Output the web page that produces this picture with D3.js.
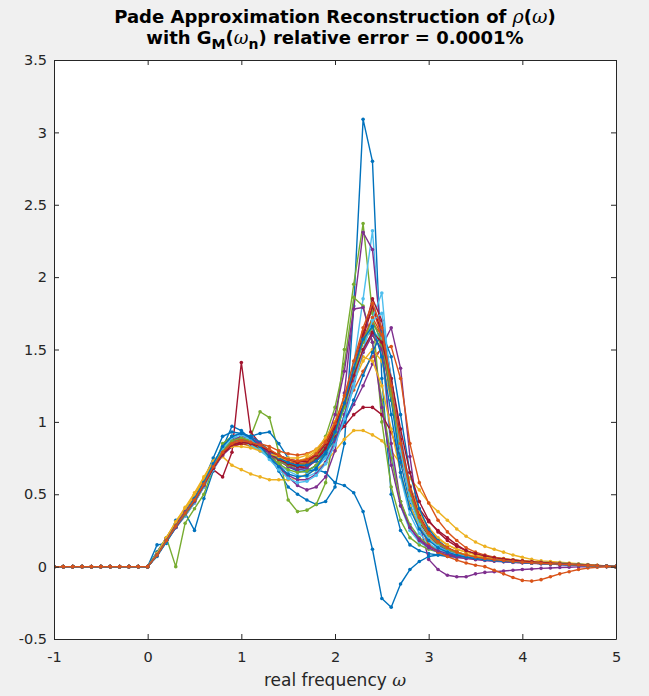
<!DOCTYPE html>
<html>
<head>
<meta charset="utf-8">
<script src="https://cdn.jsdelivr.net/npm/d3@7"></script>
<style>
  html, body { margin: 0; padding: 0; background: #f0f0f0; }
  svg { display: block; font-family: "DejaVu Sans", sans-serif; }
</style>
</head>
<body>
<div id="chart"></div>
<script>
// x grid of the reconstruction: -1 .. 5 step 0.1
const omega = d3.range(61).map(i => Math.round((-1 + i * 0.1) * 10) / 10);

const xTicks = [-1, 0, 1, 2, 3, 4, 5];
const yTicks = [-0.5, 0, 0.5, 1, 1.5, 2, 2.5, 3, 3.5];

// MATLAB default colour order
const colors = ["#0072BD", "#D95319", "#EDB120", "#7E2F8E", "#77AC30", "#4DBEEE", "#A2142F"];

// each reconstruction, 61 values from w=-1 to w=5
const s01 = [0,0,0,0,0,0,0,0,0,0, 0,.15,.16,.32,.37,.25,.47,.66,.82,.97, .94,.88,.84,.76,.66,.55,.50,.46,.43,.45, .55,.85,1.8,3.09,2.8,1.3,.5,.25,.15,.11, .09,.08,.07,.065,.06,.055,.05,.045,.04,.036, .032,.028,.025,.022,.019,.016,.012,.009,.006,.003, 0];
const s02 = [0,0,0,0,0,0,0,0,0,0, 0,.08,.19,.29,.37,.46,.57,.69,.79,.86, .88,.87,.84,.80,.76,.72,.70,.71,.75,.84, .97,1.16,1.4,1.62,1.78,1.6,1.22,.82,.52,.34, .23,.17,.13,.1,.08,.067,.057,.05,.043,.037, .032,.028,.024,.02,.017,.014,.011,.008,.005,.002, 0];
const s03 = [0,0,0,0,0,0,0,0,0,0, 0,.09,.19,.3,.4,.5,.6,.7,.76,.7, .67,.64,.62,.6,.6,.6,.61,.64,.67,.72, .8,.88,.94,.94,.91,.87,.8,.71,.61,.53, .44,.38,.32,.26,.21,.17,.14,.12,.1,.08, .065,.05,.04,.035,.03,.025,.02,.015,.01,.005, 0];
const s04 = [0,0,0,0,0,0,0,0,0,0, 0,.08,.18,.27,.35,.44,.55,.67,.77,.83, .85,.85,.83,.8,.77,.74,.73,.74,.77,.83, .9,1.0,1.12,1.25,1.4,1.52,1.65,1.37,.76,.3, .05,-.02,-.06,-.07,-.07,-.05,-.04,-.035,-.03,-.025, -.02,-.016,-.012,-.009,-.006,-.004,-.002,-.001,0,0, 0];
const s05 = [0,0,0,0,0,0,0,0,0,0, 0,.1,.2,0,.3,.4,.5,.68,.85,.9, .88,.9,1.07,1.03,.79,.46,.38,.39,.43,.58, .95,1.5,1.95,2.37,1.75,1.0,.55,.32,.2,.15, .12,.1,.085,.075,.065,.058,.052,.046,.041,.036, .032,.028,.024,.021,.018,.015,.012,.009,.006,.003, 0];
const s06 = [0,0,0,0,0,0,0,0,0,0, 0,.08,.18,.28,.36,.45,.56,.68,.8,.88, .9,.88,.85,.8,.75,.7,.66,.65,.68,.76, .9,1.1,1.4,1.85,2.32,1.5,.8,.42,.25,.17, .13,.1,.085,.072,.063,.055,.049,.044,.039,.035, .031,.027,.024,.021,.018,.015,.012,.009,.006,.003, 0];
const s07 = [0,0,0,0,0,0,0,0,0,0, 0,.08,.2,.28,.36,.46,.57,.67,.62,.79, 1.41,.93,.85,.79,.74,.7,.68,.69,.73,.81, .94,1.12,1.34,1.58,1.8,1.62,1.2,.78,.48,.31, .21,.16,.12,.1,.08,.068,.058,.05,.043,.037, .032,.028,.024,.02,.017,.014,.011,.008,.005,.002, 0];
const s08 = [0,0,0,0,0,0,0,0,0,0, 0,.1,.2,.3,.38,.48,.6,.75,.9,.93, .92,.9,.92,.93,.85,.75,.68,.66,.67,.65, .58,.56,.51,.38,.12,-.22,-.28,-.12,-.02,.035, .07,.08,.08,.075,.07,.065,.06,.055,.05,.045, .04,.035,.03,.027,.023,.02,.016,.012,.008,.004, 0];
const s09 = [0,0,0,0,0,0,0,0,0,0, 0,.08,.18,.28,.37,.46,.57,.69,.79,.85, .87,.85,.82,.78,.74,.71,.7,.72,.77,.86, .98,1.1,1.22,1.35,1.45,1.5,1.52,1.3,.85,.58, .44,.32,.24,.18,.13,.1,.08,.065,.055,.046, .039,.033,.028,.024,.02,.016,.013,.01,.007,.004, 0];
const s10 = [0,0,0,0,0,0,0,0,0,0, 0,.09,.2,.3,.39,.49,.6,.72,.8,.84, .85,.83,.8,.77,.74,.72,.72,.74,.78,.86, .98,1.12,1.28,1.42,1.5,1.42,1.15,.82,.55,.37, .26,.19,.15,.12,.1,.085,.072,.062,.054,.047, .041,.035,.03,.026,.022,.018,.014,.011,.007,.004, 0];
const s11 = [0,0,0,0,0,0,0,0,0,0, 0,.08,.18,.27,.36,.45,.56,.68,.79,.86, .88,.87,.82,.76,.69,.62,.56,.53,.55,.62, .8,1.2,1.78,2.31,2.19,1.55,.85,.45,.27,.18, .13,.1,.08,.065,.055,.048,.042,.037,.033,.029, .026,.023,.02,.017,.015,.012,.01,.007,.005,.002, 0];
const s12 = [0,0,0,0,0,0,0,0,0,0, 0,.08,.18,.28,.37,.47,.58,.7,.8,.86, .88,.86,.82,.78,.74,.71,.7,.72,.78,.9, 1.1,1.4,1.86,1.8,1.55,1.15,.75,.45,.29,.2, .15,.12,.1,.085,.073,.063,.055,.048,.042,.037, .032,.028,.024,.02,.017,.014,.011,.008,.005,.002, 0];
const s13 = [0,0,0,0,0,0,0,0,0,0, 0,.08,.17,.27,.35,.44,.55,.67,.78,.85, .87,.86,.83,.79,.75,.71,.68,.67,.69,.75, .86,1.02,1.24,1.5,1.72,1.89,1.2,.62,.36,.23, .16,.12,.095,.078,.066,.057,.05,.044,.039,.034, .03,.026,.022,.019,.016,.013,.01,.007,.005,.002, 0];
const s14 = [0,0,0,0,0,0,0,0,0,0, 0,.08,.18,.28,.37,.47,.58,.69,.78,.83, .85,.84,.82,.79,.76,.74,.73,.74,.77,.82, .9,.97,1.05,1.1,1.1,1.05,.93,.75,.55,.4, .31,.25,.2,.15,.11,.085,.068,.056,.047,.04, .034,.029,.025,.021,.018,.015,.012,.009,.006,.003, 0];
const s15 = [0,0,0,0,0,0,0,0,0,0, 0,.07,.17,.27,.36,.46,.57,.7,.82,.9, .92,.9,.86,.8,.74,.69,.66,.66,.7,.79, .93,1.12,1.35,1.58,1.7,1.55,1.15,.72,.43,.27, .19,.14,.11,.09,.075,.064,.055,.048,.042,.037, .032,.028,.024,.02,.017,.014,.011,.008,.005,.002, 0];
const s16 = [0,0,0,0,0,0,0,0,0,0, 0,.08,.18,.28,.37,.46,.57,.68,.78,.84, .86,.85,.83,.8,.76,.73,.71,.72,.76,.84, .96,1.13,1.34,1.55,1.68,1.6,1.3,.9,.55,.3, .15,.1,.07,.045,.025,.01,0,-.025,-.05,-.075, -.095,-.1,-.09,-.07,-.05,-.035,-.02,-.01,-.004,-.001, 0];
const s17 = [0,0,0,0,0,0,0,0,0,0, 0,.09,.2,.31,.4,.5,.61,.72,.8,.85, .86,.84,.81,.78,.75,.73,.73,.75,.8,.88, 1.0,1.16,1.34,1.5,1.6,1.5,1.2,.85,.56,.38, .27,.2,.15,.12,.1,.083,.07,.06,.052,.045, .039,.034,.029,.025,.021,.017,.013,.01,.007,.003, 0];
const s18 = [0,0,0,0,0,0,0,0,0,0, 0,.08,.19,.29,.38,.47,.58,.7,.79,.84, .86,.85,.82,.78,.73,.69,.67,.68,.74,.85, 1.05,1.35,1.78,1.79,1.55,1.1,.7,.42,.27,.19, .14,.11,.09,.075,.064,.055,.048,.042,.037,.033, .029,.025,.022,.019,.016,.013,.01,.007,.005,.002, 0];
const s19 = [0,0,0,0,0,0,0,0,0,0, 0,.08,.18,.28,.36,.45,.56,.68,.79,.86, .87,.85,.81,.77,.73,.7,.69,.7,.75,.83, .96,1.14,1.36,1.55,1.65,1.52,1.18,.8,.5,.33, .23,.17,.13,.1,.082,.068,.058,.05,.043,.037, .032,.028,.024,.02,.017,.014,.011,.008,.005,.002, 0];
const s20 = [0,0,0,0,0,0,0,0,0,0, 0,.08,.18,.28,.36,.46,.57,.7,.8,.86, .87,.84,.8,.75,.7,.66,.63,.62,.65,.72, .85,1.05,1.3,1.5,1.62,1.58,1.3,.9,.55,.34, .22,.16,.12,.095,.078,.065,.055,.048,.042,.037, .032,.028,.024,.02,.017,.014,.011,.008,.005,.002, 0];
const s21 = [0,0,0,0,0,0,0,0,0,0, 0,.08,.18,.28,.37,.46,.57,.68,.78,.84, .86,.85,.82,.78,.74,.71,.69,.7,.74,.82, .95,1.13,1.36,1.6,1.85,1.7,1.3,.88,.55,.35, .24,.17,.13,.1,.08,.067,.057,.049,.042,.036, .031,.027,.023,.019,.016,.013,.01,.007,.005,.002, 0];
const s22 = [0,0,0,0,0,0,0,0,0,0, 0,.08,.18,.28,.37,.47,.58,.7,.8,.86, .88,.86,.83,.79,.75,.72,.7,.7,.73,.79, .88,1.0,1.15,1.32,1.48,1.62,1.45,1.05,.65,.4, .26,.18,.13,.1,.08,.066,.056,.048,.042,.036, .031,.027,.023,.02,.017,.014,.011,.008,.005,.002, 0];
const s23 = [0,0,0,0,0,0,0,0,0,0, 0,.08,.18,.28,.37,.47,.58,.7,.8,.86, .88,.87,.85,.83,.8,.78,.77,.78,.81,.88, .99,1.15,1.36,1.57,1.72,1.6,1.25,.85,.53,.34, .23,.17,.13,.1,.08,.066,.056,.048,.042,.036, .031,.027,.023,.02,.017,.014,.011,.008,.005,.002, 0];
const s24 = [0,0,0,0,0,0,0,0,0,0, 0,.09,.2,.31,.41,.51,.62,.73,.8,.83, .83,.82,.8,.78,.76,.75,.75,.77,.81,.89, 1.0,1.15,1.3,1.45,1.42,1.25,.95,.65,.42,.28, .2,.15,.12,.1,.085,.072,.062,.054,.047,.041, .036,.031,.027,.023,.019,.016,.012,.009,.006,.003, 0];
const s25 = [0,0,0,0,0,0,0,0,0,0, 0,.08,.18,.27,.36,.45,.56,.68,.79,.87, .9,.89,.85,.78,.7,.63,.6,.6,.64,.72, .86,1.05,1.28,1.48,1.6,1.5,1.2,.82,.52,.33, .22,.15,.11,.085,.068,.055,.046,.04,.035,.031, .027,.024,.021,.018,.015,.013,.01,.007,.005,.002, 0];
const s26 = [0,0,0,0,0,0,0,0,0,0, 0,.08,.18,.28,.36,.46,.57,.69,.8,.87, .89,.87,.82,.76,.71,.67,.65,.66,.7,.78, .92,1.1,1.34,1.56,1.7,1.55,1.2,.8,.5,.32, .22,.16,.12,.095,.078,.065,.055,.048,.042,.037, .032,.028,.024,.02,.017,.014,.011,.008,.005,.002, 0];
const s27 = [0,0,0,0,0,0,0,0,0,0, 0,.08,.18,.28,.37,.47,.58,.71,.82,.89, .91,.88,.82,.74,.67,.61,.58,.59,.63,.71, .84,1.02,1.26,1.5,1.7,1.75,1.3,.8,.47,.29, .19,.14,.105,.085,.07,.059,.05,.044,.039,.034, .03,.026,.022,.019,.016,.013,.01,.007,.005,.002, 0];
const s28 = [0,0,0,0,0,0,0,0,0,0, 0,.08,.18,.28,.37,.46,.57,.68,.78,.84, .86,.85,.83,.8,.77,.74,.72,.73,.77,.85, .97,1.13,1.32,1.5,1.62,1.55,1.3,.95,.65,.45, .32,.24,.18,.14,.11,.09,.074,.062,.053,.046, .04,.034,.029,.025,.021,.017,.013,.01,.007,.003, 0];
const s29 = [0,0,0,0,0,0,0,0,0,0, 0,.08,.18,.28,.37,.47,.58,.71,.83,.9, .92,.89,.83,.76,.69,.64,.62,.63,.68,.78, .93,1.13,1.37,1.57,1.66,1.45,1.05,.65,.4,.26, .18,.13,.1,.08,.066,.056,.048,.042,.037,.033, .029,.025,.022,.019,.016,.013,.01,.007,.005,.002, 0];
const s30 = [0,0,0,0,0,0,0,0,0,0, 0,.08,.18,.28,.37,.46,.57,.69,.79,.85, .87,.86,.84,.81,.77,.74,.73,.74,.78,.86, .99,1.18,1.42,1.65,1.82,1.65,1.25,.85,.53,.34, .23,.17,.13,.1,.08,.066,.056,.048,.042,.036, .031,.027,.023,.02,.017,.014,.011,.008,.005,.002, 0];

const series = [s01, s02, s03, s04, s05, s06, s07, s08, s09, s10, s11, s12, s13, s14, s15,
                s16, s17, s18, s19, s20, s21, s22, s23, s24, s25, s26, s27, s28, s29, s30];

const width = 649;
const height = 696;
const margin = {top: 60, right: 33, bottom: 57, left: 54};

const svg = d3.select("#chart")
  .append("svg")
  .attr("width", width)
  .attr("height", height);

svg.append("rect")
  .attr("width", width)
  .attr("height", height)
  .attr("fill", "#f0f0f0");

const x = d3.scaleLinear()
  .domain([-1, 5])
  .range([margin.left, width - margin.right]);

const y = d3.scaleLinear()
  .domain([-0.5, 3.5])
  .range([height - margin.bottom, margin.top]);

// white axes area
svg.append("rect")
  .attr("x", x(-1))
  .attr("y", y(3.5))
  .attr("width", x(5) - x(-1))
  .attr("height", y(-0.5) - y(3.5))
  .attr("fill", "white");

svg.append("clipPath")
  .attr("id", "clip")
  .append("rect")
  .attr("x", x(-1))
  .attr("y", y(3.5))
  .attr("width", x(5) - x(-1))
  .attr("height", y(-0.5) - y(3.5));

const line = d3.line()
  .x((d, i) => x(omega[i]))
  .y(d => y(d));

const plot = svg.append("g").attr("clip-path", "url(#clip)");

series.forEach((s, k) => {
  const c = colors[k % colors.length];
  const g = plot.append("g");
  g.append("path")
    .attr("d", line(s))
    .attr("fill", "none")
    .attr("stroke", c)
    .attr("stroke-width", 1.4)
    .attr("stroke-linejoin", "round");
  g.selectAll("circle")
    .data(s)
    .enter()
    .append("circle")
    .attr("cx", (d, i) => x(omega[i]))
    .attr("cy", d => y(d))
    .attr("r", 1.8)
    .attr("fill", c);
});

// axes, ticks pointing inward like MATLAB
const fmt = d => String(d);
const axisColor = "#262626";

const xAxis = svg.append("g")
  .attr("transform", `translate(0,${y(-0.5)})`)
  .call(d3.axisBottom(x).tickValues(xTicks).tickFormat(fmt).tickSizeInner(-5).tickSizeOuter(0).tickPadding(13));

const xTop = svg.append("g")
  .attr("transform", `translate(0,${y(3.5)})`)
  .call(d3.axisTop(x).tickValues(xTicks).tickFormat("").tickSizeInner(-5).tickSizeOuter(0));

const yAxis = svg.append("g")
  .attr("transform", `translate(${x(-1)},0)`)
  .call(d3.axisLeft(y).tickValues(yTicks).tickFormat(fmt).tickSizeInner(-5).tickSizeOuter(0).tickPadding(7));

const yRight = svg.append("g")
  .attr("transform", `translate(${x(5)},0)`)
  .call(d3.axisRight(y).tickValues(yTicks).tickFormat("").tickSizeInner(-5).tickSizeOuter(0));

[xAxis, xTop, yAxis, yRight].forEach(a => {
  a.select(".domain").attr("stroke", axisColor).attr("stroke-width", 1);
  a.selectAll(".tick line").attr("stroke", axisColor).attr("stroke-width", 1);
  a.selectAll(".tick text")
    .attr("fill", axisColor)
    .attr("font-size", "14.5px")
    .attr("font-family", "DejaVu Sans, sans-serif");
});

// x label
const xl = svg.append("text")
  .attr("x", (x(-1) + x(5)) / 2)
  .attr("y", 686)
  .attr("text-anchor", "middle")
  .attr("font-size", "17px")
  .attr("fill", axisColor);
xl.append("tspan").text("real frequency ");
xl.append("tspan").attr("font-style", "italic").attr("font-family", "DejaVu Serif, serif").text("ω");

// title, two lines
const cx = (x(-1) + x(5)) / 2;
const t1 = svg.append("text")
  .attr("x", cx)
  .attr("y", 23)
  .attr("text-anchor", "middle")
  .attr("font-size", "18px")
  .attr("font-weight", "bold")
  .attr("fill", "black");
t1.append("tspan").text("Pade Approximation Reconstruction of ");
t1.append("tspan").attr("font-style", "italic").attr("font-weight", "normal").attr("font-size", "19px").attr("font-family", "DejaVu Serif, serif").text("ρ");
t1.append("tspan").text("(");
t1.append("tspan").attr("font-style", "italic").attr("font-weight", "normal").attr("font-size", "19px").attr("font-family", "DejaVu Serif, serif").text("ω");
t1.append("tspan").text(")");

const t2 = svg.append("text")
  .attr("x", cx)
  .attr("y", 44)
  .attr("text-anchor", "middle")
  .attr("font-size", "18px")
  .attr("font-weight", "bold")
  .attr("fill", "black");
t2.append("tspan").text("with G");
t2.append("tspan").attr("font-size", "14px").attr("dy", 5).text("M");
t2.append("tspan").attr("dy", -5).text("(");
t2.append("tspan").attr("font-style", "italic").attr("font-weight", "normal").attr("font-family", "DejaVu Serif, serif").text("ω");
t2.append("tspan").attr("font-size", "14px").attr("dy", 5).text("n");
t2.append("tspan").attr("dy", -5).text(") relative error = 0.0001%");
</script>
</body>
</html>
